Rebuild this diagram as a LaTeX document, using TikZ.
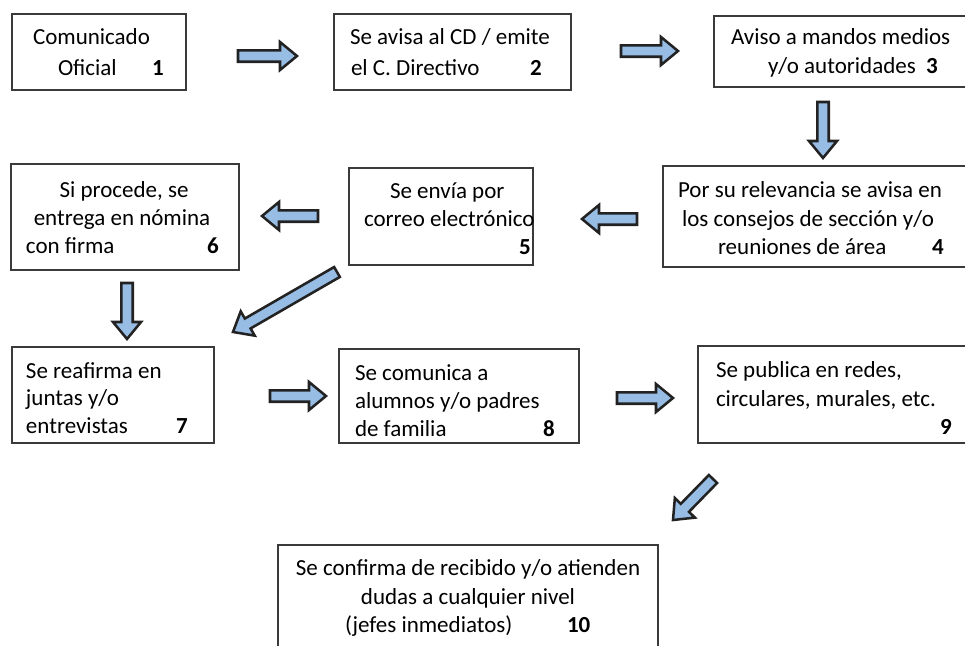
\documentclass[tikz,border=0pt]{standalone}
\usepackage{fontspec}
\setmainfont{Carlito}
\usetikzlibrary{calc,fit}
\definecolor{boxline}{HTML}{3A3A3A}
\definecolor{arrfill}{HTML}{98BDE4}
\definecolor{arrline}{HTML}{222222}
\tikzset{
  box/.style={draw=boxline, line width=1.1pt, inner sep=0pt, rectangle},
  txt/.style={inner sep=0pt, outer sep=0pt, font=\fontsize{17.25pt}{21pt}\selectfont, text=black},
  fatarr/.style={draw=arrline, fill=arrfill, line width=1.9pt, line join=miter},
}
\newcommand{\fatarrow}[2]{%
  \coordinate (#1#2n) at ($(#2)!12.75pt!(#1)$);
  \draw[fatarr] ($(#1)!4.3pt!90:(#2)$) -- ($(#1#2n)!4.3pt!90:(#2)$) -- ($(#1#2n)!10.5pt!90:(#2)$) -- (#2)
     -- ($(#1#2n)!10.5pt!-90:(#2)$) -- ($(#1#2n)!4.3pt!-90:(#2)$) -- ($(#1)!4.3pt!-90:(#2)$) -- cycle;
}
\begin{document}
\begin{tikzpicture}[x=0.75pt,y=-0.75pt]
\useasboundingbox (0,0) rectangle (965,646);
\clip (0,0) rectangle (965,646);
\fill[white] (0,0) rectangle (965,646);
% boxes
\node[box, fit={(12,14) (186,90)}] (b1) {};
\node[box, fit={(334,14) (571,90)}] (b2) {};
\node[box, fit={(714,16) (980,87)}] (b3) {};
\node[box, fit={(663,166) (980,267)}] (b4) {};
\node[box, fit={(349,168) (533,265)}] (b5) {};
\node[box, fit={(11,164) (239,270)}] (b6) {};
\node[box, fit={(12,347) (214,443)}] (b7) {};
\node[box, fit={(339,349) (579,443)}] (b8) {};
\node[box, fit={(698,346) (980,443)}] (b9) {};
\node[box, fit={(278,545) (658,670)}] (b10) {};
% texts
\node[txt, anchor=base west] (t1a) at (33,45) {Comunicado};
\node[txt, anchor=base west] (t1b) at (58,75) {Oficial};
\node[txt, anchor=base west] (n1) at (152,75) {\textbf{1}};
\node[txt, anchor=base west] (t2a) at (350,45) {Se avisa al CD / emite};
\node[txt, anchor=base west] (t2b) at (351,75) {el C. Directivo};
\node[txt, anchor=base west] (n2) at (530,75) {\textbf{2}};
\node[txt, anchor=base west] (t3a) at (731,45) {Aviso a mandos medios};
\node[txt, anchor=base west] (t3b) at (768,73) {y/o autoridades};
\node[txt, anchor=base west] (n3) at (926,73) {\textbf{3}};
\node[txt, anchor=base west] (t4a) at (678,197) {Por su relevancia se avisa en};
\node[txt, anchor=base west] (t4b) at (682,226) {los consejos de sección y/o};
\node[txt, anchor=base west] (t4c) at (718,254) {reuniones de área};
\node[txt, anchor=base west] (n4) at (932,254) {\textbf{4}};
\node[txt, anchor=base west] (t5a) at (390,198) {Se envía por};
\node[txt, anchor=base west] (t5b) at (364,226) {correo electrónico};
\node[txt, anchor=base west] (n5) at (519,254) {\textbf{5}};
\node[txt, anchor=base] (t6a) at (124,197) {Si procede, se};
\node[txt, anchor=base] (t6b) at (122,225) {entrega en nómina};
\node[txt, anchor=base west] (t6c) at (26,253) {con firma};
\node[txt, anchor=base west] (n6) at (207,253) {\textbf{6}};
\node[txt, anchor=base west] (t7a) at (26,378) {Se reafirma en};
\node[txt, anchor=base west] (t7b) at (26,405) {juntas y/o};
\node[txt, anchor=base west] (t7c) at (26,433) {entrevistas};
\node[txt, anchor=base west] (n7) at (176,433) {\textbf{7}};
\node[txt, anchor=base west] (t8a) at (355,380) {Se comunica a};
\node[txt, anchor=base west] (t8b) at (355,408) {alumnos y/o padres};
\node[txt, anchor=base west] (t8c) at (355,436) {de familia};
\node[txt, anchor=base west] (n8) at (543,436) {\textbf{8}};
\node[txt, anchor=base west] (t9a) at (716,377) {Se publica en redes,};
\node[txt, anchor=base west] (t9b) at (716,406) {circulares, murales, etc.};
\node[txt, anchor=base west] (n9) at (940,434) {\textbf{9}};
\node[txt, anchor=base] (t10a) at (468,575) {Se confirma de recibido y/o atienden};
\node[txt, anchor=base] (t10b) at (468,604) {dudas a cualquier nivel};
\node[txt, anchor=base west] (t10c) at (345,632) {(jefes inmediatos)};
\node[txt, anchor=base west] (n10) at (567,632) {\textbf{10}};
% arrow end points
\coordinate (a12s) at (238,56);  \coordinate (a12e) at (297,56);
\coordinate (a23s) at (621,51);  \coordinate (a23e) at (678,51);
\coordinate (a34s) at (823,102); \coordinate (a34e) at (823,158);
\coordinate (a45s) at (637,219); \coordinate (a45e) at (582,219);
\coordinate (a56s) at (318,216); \coordinate (a56e) at (262,216);
\coordinate (a57s) at (337,272); \coordinate (a57e) at (233,332);
\coordinate (a67s) at (127,283); \coordinate (a67e) at (127,339);
\coordinate (a78s) at (270,396); \coordinate (a78e) at (326,396);
\coordinate (a89s) at (617,398); \coordinate (a89e) at (673,398);
\coordinate (a910s) at (713,479); \coordinate (a910e) at (673,520);
\fatarrow{a12s}{a12e}
\fatarrow{a23s}{a23e}
\fatarrow{a34s}{a34e}
\fatarrow{a45s}{a45e}
\fatarrow{a56s}{a56e}
\fatarrow{a57s}{a57e}
\fatarrow{a67s}{a67e}
\fatarrow{a78s}{a78e}
\fatarrow{a89s}{a89e}
\fatarrow{a910s}{a910e}
\end{tikzpicture}
\end{document}
